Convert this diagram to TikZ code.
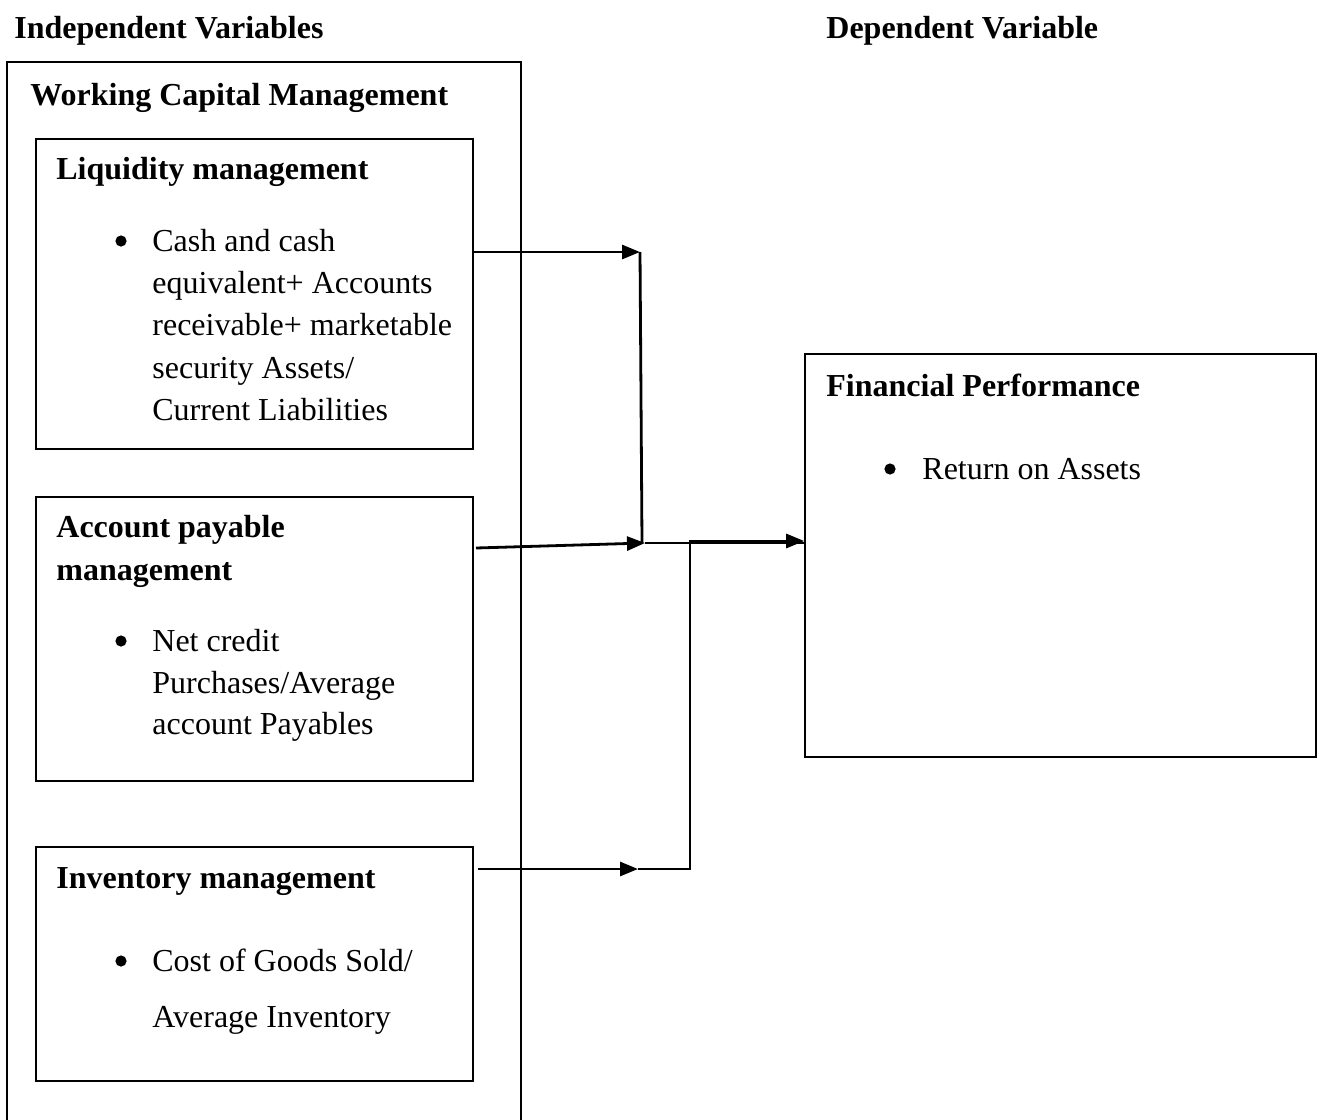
\documentclass[tikz,border=0pt]{standalone}
\usepackage{fontspec}
\setmainfont{Liberation Serif}
\usetikzlibrary{arrows.meta,positioning,calc}

\begin{document}
\begin{tikzpicture}[x=0.5pt,y=-0.5pt,font=\fontsize{16}{19}\selectfont,
  box/.style={draw,line width=0.8pt,inner sep=0pt},
  lbl/.style={anchor=base west,inner sep=0pt},
  ttl/.style={lbl,font=\fontsize{16}{19}\selectfont\bfseries},
  blt/.style={circle,fill,inner sep=0pt,minimum size=5.6pt},
  wire/.style={line width=1.4pt},
  arr/.style={wire,-{Triangle[length=9pt,width=7pt]}}]
\useasboundingbox (0,0) rectangle (1320,1119);
% headings
\node[ttl] (indep) at (14,38) {Independent Variables};
\node[ttl] (dep) at (826,38) {Dependent Variable};
% outer frame, open at the bottom
\draw[line width=0.8pt] (7,1125) |- (521,62) -- (521,1125);
\node[ttl] (wcm) at (30,105) {Working Capital Management};
% boxes
\node[box,minimum width=218.5pt,minimum height=155pt] (liq) at (254.5,294) {};
\node[box,minimum width=218.5pt,minimum height=142pt] (acc) at (254.5,639) {};
\node[box,minimum width=218.5pt,minimum height=117pt] (inv) at (254.5,964) {};
\node[box,minimum width=255.5pt,minimum height=201.5pt] (fin) at (1060.5,555.5) {};
% liquidity
\node[ttl] (liqT) at (56,179) {Liquidity management};
\node[blt] (liqB) at (121,241) {};
\node[lbl] (liq1) at (152,251) {Cash and cash};
\node[lbl] (liq2) at (152,293) {equivalent+ Accounts};
\node[lbl] (liq3) at (152,335) {receivable+ marketable};
\node[lbl] (liq4) at (152,378) {security Assets/};
\node[lbl] (liq5) at (152,420) {Current Liabilities};
% account payable
\node[ttl] (accT1) at (56,537) {Account payable};
\node[ttl] (accT2) at (56,580) {management};
\node[blt] (accB) at (121,641) {};
\node[lbl] (acc1) at (152,651) {Net credit};
\node[lbl] (acc2) at (152,693) {Purchases/Average};
\node[lbl] (acc3) at (152,734) {account Payables};
% inventory
\node[ttl] (invT) at (56,888) {Inventory management};
\node[blt] (invB) at (121,961) {};
\node[lbl] (inv1) at (152,971) {Cost of Goods Sold/};
\node[lbl] (inv2) at (152,1027) {Average Inventory};
% financial performance
\node[ttl] (finT) at (826,396) {Financial Performance};
\node[blt] (finB) at (890,469) {};
\node[lbl] (fin1) at (922,479) {Return on Assets};
% connectors
\coordinate (j1) at (640,252);
\coordinate (j2) at (642,543);
\coordinate (j2t) at (645,543);
\coordinate (s2) at (476,548);
\coordinate (s3) at (478,869);
\coordinate (j3) at (638,869);
\coordinate (k2) at (690,541);
\draw[arr] (liq.east |- j1) -- (j1);
\draw[wire] (j1) -- (j2);
\draw[arr] (s2) -- (j2t);
\draw[wire] (j2t) -- (fin.west |- j2t);
\draw[arr] (s3) -- (j3);
\draw[arr] (j3) -| (k2) -- (fin.west |- k2);
\end{tikzpicture}
\end{document}
